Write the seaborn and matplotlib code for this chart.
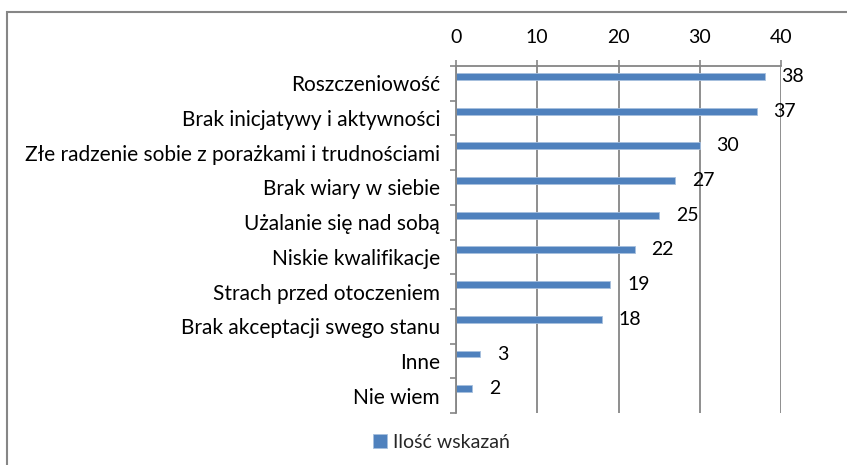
import numpy as np
import pandas as pd
import matplotlib
matplotlib.use('Agg')
import matplotlib.pyplot as plt
from matplotlib.patches import Rectangle
import seaborn as sns

# dane z wykresu
kategorie = ['Roszczeniowość', 'Brak inicjatywy i aktywności',
             'Złe radzenie sobie z porażkami i trudnościami', 'Brak wiary w siebie',
             'Użalanie się nad sobą', 'Niskie kwalifikacje', 'Strach przed otoczeniem',
             'Brak akceptacji swego stanu', 'Inne', 'Nie wiem']
wartosci = [38, 37, 30, 27, 25, 22, 19, 18, 3, 2]
seria = 'Ilość wskazań'
x_ticks = [0, 10, 20, 30, 40]

sns.set_theme(style='white')
plt.rcParams['font.family'] = ['Lato', 'DejaVu Sans']

NIEBIESKI = '#4F81BD'
SZARY = '#868686'
FS = 14
FS_KAT = 15

df = pd.DataFrame({'kategoria': kategorie, 'wartosc': wartosci})

fig = plt.figure(figsize=(8.47, 4.65), dpi=100)
ax = fig.add_axes([456 / 847, 1 - 413 / 465, (781 - 456) / 847, (413 - 66) / 465])

sns.barplot(data=df, x='wartosc', y='kategoria', orient='h', color=NIEBIESKI,
            width=0.2, saturation=1, label=seria, ax=ax,
            edgecolor='#A7C0DE', linewidth=0.6)

# przesunięcie pasm: słupki leżą nieco powyżej środka kategorii
off = 0.2
n = len(kategorie)
ax.set_ylim(n - 0.5 + off, -0.5 + off)
ax.set_yticks(np.arange(n) + off)
ax.set_yticklabels(kategorie, fontsize=FS_KAT, color='black')
ax.set_yticks(np.arange(n + 1) - 0.5 + off, minor=True)
ax.tick_params(axis='y', which='major', length=0, pad=11.5)
ax.tick_params(axis='y', which='minor', length=4, width=1.2, color=SZARY, left=True)

ax.set_xlim(0, 40)
ax.set_xticks(x_ticks)
ax.xaxis.tick_top()
ax.tick_params(axis='x', which='major', top=True, bottom=False, length=4.5, width=1.2,
               color=SZARY, labelsize=FS, pad=10, labelcolor='black')
ax.set_xlabel('')
ax.set_ylabel('')

ax.grid(axis='x', color=SZARY, linewidth=1.3)
ax.grid(axis='y', visible=False)
ax.set_axisbelow(True)
for s in ['right', 'bottom']:
    ax.spines[s].set_visible(False)
for s in ['top', 'left']:
    ax.spines[s].set_color(SZARY)
    ax.spines[s].set_linewidth(1.3)

ax.bar_label(ax.containers[0], labels=[str(v) for v in wartosci], padding=12,
             fontsize=FS, color='black')

if ax.legend_:
    ax.legend_.remove()
h, l = ax.get_legend_handles_labels()
fig.legend(h[:1], l[:1], loc='center', bbox_to_anchor=(0.521, 0.049), frameon=False,
           fontsize=FS, handlelength=0.7, handleheight=0.7, handletextpad=0.3)

# ramka obszaru wykresu
fig.add_artist(Rectangle((7 / 847, -0.1), 1.2, 1 - 12 / 465 + 0.1, transform=fig.transFigure,
                         fill=False, edgecolor=SZARY, linewidth=1.5))

fig.savefig('out.png', dpi=100)
